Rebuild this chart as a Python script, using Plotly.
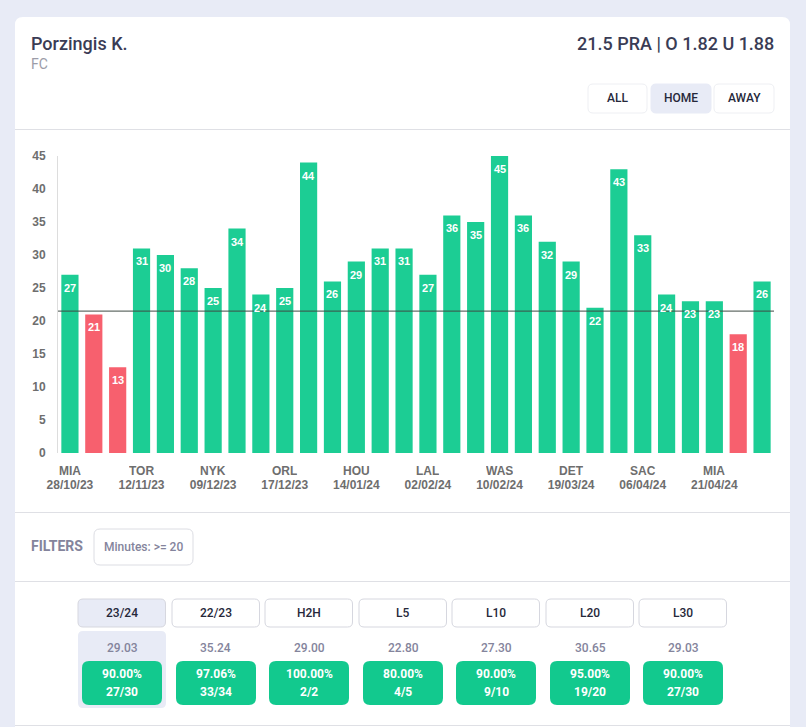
import plotly.graph_objects as go

W, H = 806, 727

values = [27, 21, 13, 31, 30, 28, 25, 34, 24, 25, 44, 26, 29, 31, 31,
          27, 36, 35, 45, 36, 32, 29, 22, 43, 33, 24, 23, 23, 18, 26]
line_value = 21.5
tick_idx = [0, 3, 6, 9, 12, 15, 18, 21, 24, 27]
tick_team = ["MIA", "TOR", "NYK", "ORL", "HOU", "LAL", "WAS", "DET", "SAC", "MIA"]
tick_date = ["28/10/23", "12/11/23", "09/12/23", "17/12/23", "14/01/24",
             "02/02/24", "10/02/24", "19/03/24", "06/04/24", "21/04/24"]
tabs = ["23/24", "22/23", "H2H", "L5", "L10", "L20", "L30"]
averages = ["29.03", "35.24", "29.00", "22.80", "27.30", "30.65", "29.03"]
percents = ["90.00%", "97.06%", "100.00%", "80.00%", "90.00%", "95.00%", "90.00%"]
ratios = ["27/30", "33/34", "2/2", "4/5", "9/10", "19/20", "27/30"]

GREEN, RED = "#1ccd94", "#f7606e"
PILL = "#12c98e"
BG = "#e8ebf6"
LINE = "#dfe0e5"
DARK = "#3a3c55"
MUTED = "#84849c"
AXIS = "#6e6e6e"


def px(x):
    return x / W


def py(y):
    return 1 - y / H


def rrect(x0, y0, x1, y1, r, fill, line=None, width=1):
    X0, X1, Y0, Y1 = px(x0), px(x1), py(y0), py(y1)
    rx, ry = r / W, r / H
    path = (f"M{X0 + rx},{Y0} L{X1 - rx},{Y0} Q{X1},{Y0} {X1},{Y0 - ry} "
            f"L{X1},{Y1 + ry} Q{X1},{Y1} {X1 - rx},{Y1} "
            f"L{X0 + rx},{Y1} Q{X0},{Y1} {X0},{Y1 + ry} "
            f"L{X0},{Y0 - ry} Q{X0},{Y0} {X0 + rx},{Y0} Z")
    return dict(type="path", xref="paper", yref="paper", path=path, fillcolor=fill,
                line=dict(color=line or fill, width=width if line else 0), layer="below")


def hline(y):
    return dict(type="line", xref="paper", yref="paper", x0=px(15), x1=px(790),
                y0=py(y), y1=py(y), line=dict(color=LINE, width=1), layer="below")


def text(x, y, s, size, color, anchor="center", weight=400, family="Roboto"):
    return dict(xref="paper", yref="paper", x=px(x), y=py(y), text=s, showarrow=False,
                xanchor=anchor, yanchor="middle", borderpad=0,
                font=dict(size=size, color=color, family=family, weight=weight))


shapes = [rrect(15, 17, 790, 760, 8, "#ffffff")]
shapes += [hline(129.5), hline(512.5), hline(581.5), hline(725.5)]
annotations = [
    text(30, 43, "Porzingis K.", 18, DARK, "left", 500),
    text(30, 64, "FC", 14, "#9c9ca8", "left"),
    text(775, 43, "21.5 PRA | O 1.82 U 1.88", 18, DARK, "right", 500),
    text(30, 546, "FILTERS", 14, MUTED, "left", 700),
    text(143.5, 547, "Minutes: &gt;= 20", 12, MUTED, "center", 500),
]

for label, x0, x1, active in [("ALL", 588, 647, False), ("HOME", 651, 711, True), ("AWAY", 714, 774, False)]:
    shapes.append(rrect(x0, 84, x1, 113, 5, BG if active else "#ffffff", BG if active else "#eeeff3"))
    annotations.append(text((x0 + x1) / 2, 98, label, 12, "#26283a", "center", 500))
shapes.append(rrect(94, 529, 193, 565, 6, "#ffffff", "#dcdde3"))

shapes.append(rrect(78, 631, 166, 708, 5, BG))
tab_x0 = [78, 172, 265, 359, 452, 546, 639]
pill_x0 = [82, 176, 269, 363, 456, 550, 643]
for i, label in enumerate(tabs):
    x0 = tab_x0[i]
    shapes.append(rrect(x0, 599, x0 + 87.5, 627, 5, BG if i == 0 else "#ffffff", "#d6d7df"))
    annotations.append(text(x0 + 43.75, 613, label, 12, "#26283a", "center", 500))
    p = pill_x0[i]
    shapes.append(rrect(p, 661, p + 80, 705, 7, PILL))
    annotations.append(text(p + 40, 648, averages[i], 12, MUTED, "center", 500))
    annotations.append(text(p + 40, 674, percents[i], 12, "#ffffff", "center", 700))
    annotations.append(text(p + 40, 692, ratios[i], 12, "#ffffff", "center", 700))

for i, v in enumerate(values):
    annotations.append(dict(xref="x", yref="y", x=i, y=v, yshift=-13, text=str(v), showarrow=False,
                            xanchor="center", yanchor="middle",
                            font=dict(size=11, color="#ffffff", family="Liberation Sans", weight=700)))

for idx, team in zip(tick_idx, tick_team):
    annotations.append(dict(xref="x", yref="paper", x=idx, y=py(470.5), text=team, showarrow=False,
                            xanchor="center", yanchor="middle", borderpad=0, height=12,
                            font=dict(size=12, color=AXIS, family="Liberation Sans", weight=700)))

shapes.append(dict(type="line", xref="x", yref="y", x0=-0.5, x1=29.5, y0=line_value, y1=line_value,
                   line=dict(color="#3f4a44", width=1), layer="above"))

colors = [GREEN if v > line_value else RED for v in values]
fig = go.Figure(go.Bar(
    x=list(range(len(values))), y=values, width=0.72,
    marker=dict(color=colors, line=dict(width=0)),
    hoverinfo="skip",
))
fig.update_layout(
    width=W, height=H, margin=dict(l=0, r=0, t=0, b=0, autoexpand=False), showlegend=False,
    paper_bgcolor=BG, plot_bgcolor="rgba(0,0,0,0)", shapes=shapes, annotations=annotations,
    xaxis=dict(domain=[px(58), px(774)], range=[-0.5, 29.5], tickmode="array", tickvals=tick_idx,
               ticktext=tick_date,
               tickfont=dict(size=12, color=AXIS, family="Liberation Sans", weight=700),
               tickangle=0, ticks="", showgrid=False, zeroline=False, showline=False,
               ticklabelstandoff=23, automargin=False),
    yaxis=dict(domain=[py(453), py(156)], range=[0, 45], tickmode="array",
               tickvals=[0, 5, 10, 15, 20, 25, 30, 35, 40, 45],
               tickfont=dict(size=12, color=AXIS, family="Liberation Sans", weight=700),
               ticks="", showgrid=False, zeroline=False, showline=True, linecolor="#dddddd", linewidth=1,
               ticklabelstandoff=9, automargin=False),
)
fig.write_html("out.html", config=dict(displayModeBar=False),
               post_script="document.body.style.margin='0';document.body.style.overflow='hidden';")
